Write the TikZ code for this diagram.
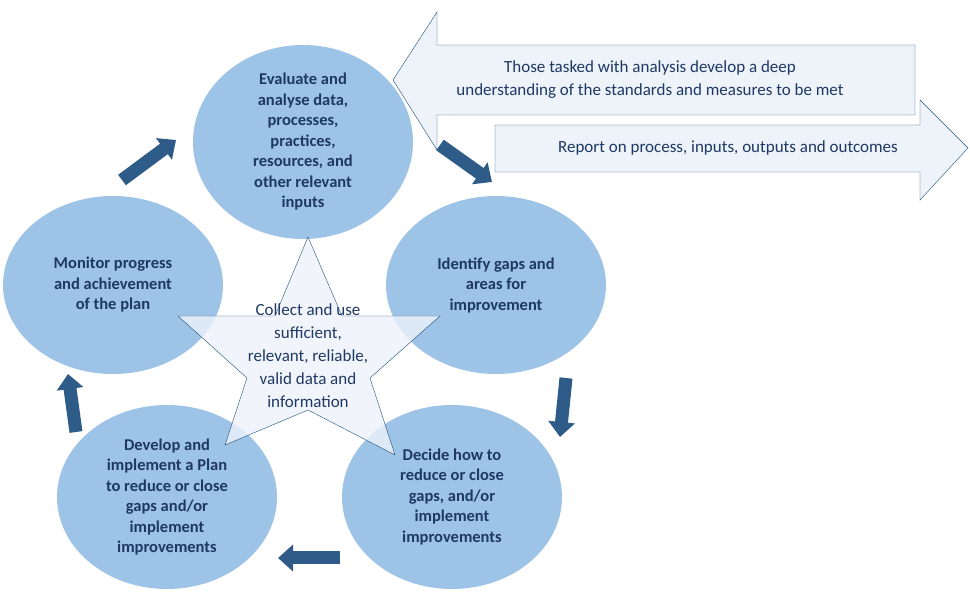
\documentclass[tikz,border=0pt]{standalone}
\usepackage{fontspec}
\setmainfont{Carlito}
\usetikzlibrary{shapes.geometric,arrows.meta,positioning}
\definecolor{cyc}{HTML}{9DC3E6}
\definecolor{ink}{HTML}{1F3864}
\definecolor{arr}{HTML}{2E5B87}
\definecolor{edge}{HTML}{1F4E79}
\definecolor{pale}{HTML}{EEF3FA}
\begin{document}
\begin{tikzpicture}[x=1pt,y=-1pt]
    \tikzstyle{phase} = [ellipse, fill=cyc, minimum width=220pt, minimum height=178pt, inner sep=0pt,
      align=center, text=ink, font=\fontsize{16.5}{20.5}\selectfont\bfseries]
    \tikzstyle{flow} = [draw=arr, line width=13pt, -{Triangle[width=26pt,length=15pt]}, shorten >=0pt]
    \tikzstyle{note} = [text=ink, align=center, font=\fontsize{17}{23}\selectfont]
    \useasboundingbox (0,0) rectangle (970,601);

    \node[phase] (eval) at (303,142) {Evaluate and\\analyse data,\\processes,\\practices,\\resources, and\\other relevant\\inputs};
    \node[phase] (gaps) at (496,285) {Identify gaps and\\areas for\\improvement};
    \node[phase, minimum height=184pt] (decide) at (452,497) {Decide how to\\reduce or close\\gaps, and/or\\implement\\improvements};
    \node[phase, minimum height=184pt] (plan) at (167,497) {Develop and\\implement a Plan\\to reduce or close\\gaps and/or\\implement\\improvements};
    \node[phase] (monitor) at (113,285) {Monitor progress\\and achievement\\of the plan};

    % central star
    \fill[pale, opacity=0.8] (308,237) -- (342,316) -- (440,316) -- (370,378) -- (395,455)
      -- (308,410) -- (225,445) -- (247,378) -- (178,316) -- (275,316) -- cycle;
    \draw[edge, thin] (308,237) -- (342,316) -- (440,316) -- (370,378) -- (395,455)
      -- (308,410) -- (225,445) -- (247,378) -- (178,316) -- (275,316) -- cycle;
    \node[note] (core) at (308,356) {Collect and use\\sufficient,\\relevant, reliable,\\valid data and\\information};

    % cycle arrows
    \coordinate (a1) at (122,180); \coordinate (b1) at (176,140);
    \coordinate (a2) at (440,145); \coordinate (b2) at (492,182);
    \coordinate (a3) at (566,378); \coordinate (b3) at (560,437);
    \coordinate (a4) at (340,558); \coordinate (b4) at (278,558);
    \coordinate (a5) at (76,432);  \coordinate (b5) at (68,374);
    \draw[flow] (a1) -- (b1);
    \draw[flow] (a2) -- (b2);
    \draw[flow] (a3) -- (b3);
    \draw[flow] (a4) -- (b4);
    \draw[flow] (a5) -- (b5);

    % side block arrows
    \draw[edge, fill=pale] (393,80) -- (437,12) -- (437,45) -- (915,45) -- (915,115)
      -- (437,115) -- (437,150) -- cycle;
    \node[note] (deep) at (650,80) {Those tasked with analysis develop a deep\\understanding of the standards and measures to be met};
    \draw[edge, fill=pale] (495,125) -- (920,125) -- (920,100) -- (968,148) -- (920,200)
      -- (920,172) -- (495,172) -- cycle;
    \node[note] (report) at (728,148) {Report on process, inputs, outputs and outcomes};
\end{tikzpicture}
\end{document}
